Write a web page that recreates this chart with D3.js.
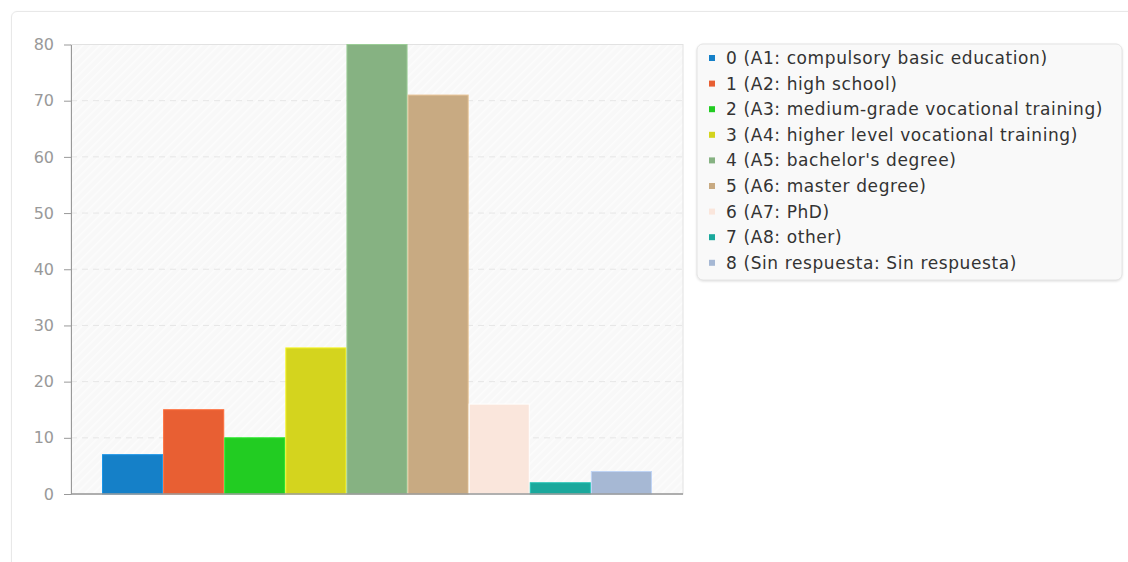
<!DOCTYPE html>
<html>
<head>
<meta charset="utf-8">
<script src="https://cdn.jsdelivr.net/npm/d3@7"></script>
<style>
  body { margin: 0; background: #fff; font-family: "DejaVu Sans", sans-serif; }
  .card { position: absolute; left: 11px; top: 11px; width: 1140px; height: 580px;
          border: 1px solid #e8e8e8; border-radius: 6px; box-shadow: 0 0 2px rgba(0,0,0,0.04); }
  svg { position: absolute; left: 0; top: 0; }
</style>
</head>
<body>
<div class="card"></div>
<svg id="chart" width="1128" height="562"></svg>
<script>
const categories = ["0 (A1: compulsory basic education)", "1 (A2: high school)",
  "2 (A3: medium-grade vocational training)", "3 (A4: higher level vocational training)",
  "4 (A5: bachelor's degree)", "5 (A6: master degree)", "6 (A7: PhD)",
  "7 (A8: other)", "8 (Sin respuesta: Sin respuesta)"];
const values = [7, 15, 10, 26, 80, 71, 16, 2, 4];
const colors = ["#1580c8", "#e85f33", "#22cc22", "#d4d41e", "#86b282", "#c8aa82", "#fae6dc", "#1aa89c", "#a6b8d4"];
const yTicks = [0, 10, 20, 30, 40, 50, 60, 70, 80];

const plot = { left: 71, right: 683, top: 44.5, bottom: 494 };
const svg = d3.select("#chart");

const defs = svg.append("defs");
const pat = defs.append("pattern")
  .attr("id", "hatch").attr("width", 6).attr("height", 6)
  .attr("patternUnits", "userSpaceOnUse")
  .attr("patternTransform", "rotate(45)");
pat.append("rect").attr("width", 6).attr("height", 6).attr("fill", "#f8f8f8");
pat.append("line").attr("x1", 0).attr("y1", 0).attr("x2", 0).attr("y2", 6)
  .attr("stroke", "#fcfcfc").attr("stroke-width", 3);

const x0 = d3.scaleBand().domain(["all"]).range([plot.left, plot.right]).paddingOuter(0.0564).paddingInner(0);
const x = d3.scaleBand().domain(categories).range([x0("all"), x0("all") + x0.bandwidth()]);
const y = d3.scaleLinear().domain([0, 80]).range([plot.bottom, plot.top]);
const color = d3.scaleOrdinal().domain(categories).range(colors);

// background
svg.append("rect")
  .attr("x", plot.left).attr("y", plot.top)
  .attr("width", plot.right - plot.left).attr("height", plot.bottom - plot.top)
  .attr("fill", "url(#hatch)")
  .attr("stroke", "#e2e2e2");

// grid
svg.append("g")
  .selectAll("line")
  .data(yTicks.slice(1, -1))
  .join("line")
  .attr("x1", plot.left).attr("x2", plot.right)
  .attr("y1", d => y(d)).attr("y2", d => y(d))
  .attr("stroke", "#e6e6e6").attr("stroke-dasharray", "6,5");

// bars
svg.append("g")
  .selectAll("rect")
  .data(categories)
  .join("rect")
  .attr("x", d => x(d) + 0.5)
  .attr("width", x.bandwidth() - 1)
  .attr("y", (d, i) => y(values[i]))
  .attr("height", (d, i) => y(0) - y(values[i]))
  .attr("fill", d => color(d))
  .attr("stroke", d => d3.color(color(d)).brighter(0.4))
  .attr("stroke-width", 1);

// y axis
const yAxis = svg.append("g")
  .attr("transform", `translate(${plot.left},0)`)
  .call(d3.axisLeft(y).tickValues(yTicks).tickSize(7).tickPadding(10).tickSizeOuter(0));
yAxis.select(".domain").attr("stroke", "#999");
yAxis.selectAll(".tick line").attr("stroke", "#999");
yAxis.selectAll(".tick text").attr("fill", "#999").style("font-size", "16px")
  .style("font-family", "DejaVu Sans, sans-serif");

// x axis line
svg.append("line")
  .attr("x1", plot.left).attr("x2", plot.right)
  .attr("y1", plot.bottom).attr("y2", plot.bottom)
  .attr("stroke", "#999").attr("stroke-width", 1.5);

// legend
const legend = svg.append("g").attr("transform", "translate(697,44)");
legend.append("rect")
  .attr("width", 425).attr("height", 236).attr("rx", 6)
  .attr("fill", "#f9f9f9")
  .attr("stroke", "#e4e4e4")
  .style("filter", "drop-shadow(0 1px 1px rgba(0,0,0,0.12))");
const items = legend.selectAll("g.item")
  .data(categories)
  .join("g")
  .attr("class", "item")
  .attr("transform", (d, i) => `translate(12,${14 + i * 25.6})`);
items.append("rect")
  .attr("x", 0).attr("y", -3).attr("width", 6).attr("height", 6)
  .attr("fill", d => color(d));
items.append("text")
  .attr("x", 17).attr("dy", "0.35em")
  .style("font-size", "17px").style("letter-spacing", "0.6px")
  .style("font-family", "DejaVu Sans, sans-serif")
  .attr("fill", "#333")
  .text(d => d);
</script>
</body>
</html>
